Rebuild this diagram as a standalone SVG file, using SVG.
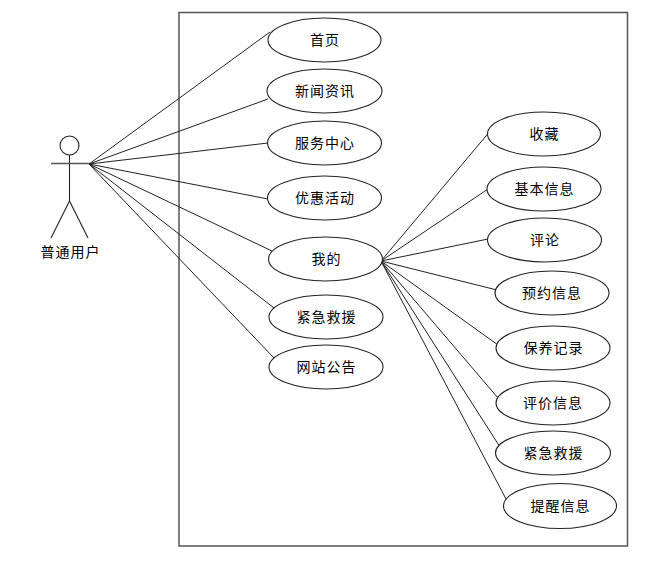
<svg xmlns="http://www.w3.org/2000/svg" width="666" height="566" viewBox="0 0 666 566">
<style>
.n ellipse{fill:#fff;stroke:#222;stroke-width:1.100}
text{font-family:"Noto Sans CJK SC","Liberation Sans",sans-serif;font-size:14px;fill:#000;text-anchor:middle;letter-spacing:1px}
#connectors line{stroke:#222;stroke-width:1}
#actor circle,#actor line{fill:#fff;stroke:#222;stroke-width:1.100}
</style>
<rect width="666" height="566" fill="#fff"/>
<rect x="179" y="12.500" width="448.500" height="533.500" fill="#fff" stroke="#555" stroke-width="1.500"/>
<g id="connectors">
<line x1="89" y1="164" x2="270" y2="32"/>
<line x1="89" y1="164" x2="268" y2="99"/>
<line x1="89" y1="164" x2="268" y2="143"/>
<line x1="89" y1="164" x2="268" y2="199"/>
<line x1="89" y1="164" x2="272" y2="251"/>
<line x1="89" y1="164" x2="274" y2="308"/>
<line x1="89" y1="164" x2="274" y2="358"/>
<line x1="381" y1="261" x2="491" y2="130"/>
<line x1="381" y1="261" x2="488" y2="189"/>
<line x1="381" y1="261" x2="488" y2="239"/>
<line x1="381" y1="261" x2="497" y2="290"/>
<line x1="381" y1="261" x2="498" y2="345"/>
<line x1="381" y1="261" x2="498" y2="398"/>
<line x1="381" y1="261" x2="500" y2="447"/>
<line x1="381" y1="261" x2="506" y2="499"/>
</g>
<g id="actor">
<circle cx="69.500" cy="145.500" r="9.500"/>
<line x1="69.500" y1="155" x2="69.500" y2="201"/>
<line x1="51" y1="163.500" x2="89" y2="163.500" style="stroke-width:1.500;stroke:#555"/>
<line x1="69.500" y1="201" x2="51" y2="238"/>
<line x1="69.500" y1="201" x2="88" y2="238"/>
<text x="70.500" y="257">普通用户</text>
</g>
<g id="n1" class="n"><ellipse cx="324.500" cy="40" rx="56.500" ry="22"/><text x="325" y="45">首页</text></g>
<g id="n2" class="n"><ellipse cx="324.500" cy="91" rx="57.500" ry="22"/><text x="325" y="96">新闻资讯</text></g>
<g id="n3" class="n"><ellipse cx="324.500" cy="143" rx="57" ry="22"/><text x="325" y="148">服务中心</text></g>
<g id="n4" class="n"><ellipse cx="324.500" cy="198" rx="57" ry="22"/><text x="325" y="203">优惠活动</text></g>
<g id="n5" class="n"><ellipse cx="325.500" cy="259" rx="57" ry="22"/><text x="326.500" y="264">我的</text></g>
<g id="n6" class="n"><ellipse cx="326" cy="317" rx="57" ry="22"/><text x="326.500" y="322">紧急救援</text></g>
<g id="n7" class="n"><ellipse cx="326" cy="367" rx="57" ry="22"/><text x="326.500" y="372">网站公告</text></g>
<g id="n8" class="n"><ellipse cx="544" cy="134" rx="56.500" ry="22"/><text x="544.500" y="139">收藏</text></g>
<g id="n9" class="n"><ellipse cx="544" cy="189" rx="57" ry="22"/><text x="544.500" y="194">基本信息</text></g>
<g id="n10" class="n"><ellipse cx="544.500" cy="240" rx="57" ry="22"/><text x="545" y="245">评论</text></g>
<g id="n11" class="n"><ellipse cx="552" cy="293" rx="57" ry="22"/><text x="552" y="298">预约信息</text></g>
<g id="n12" class="n"><ellipse cx="553" cy="348" rx="57" ry="22"/><text x="553.500" y="353">保养记录</text></g>
<g id="n13" class="n"><ellipse cx="553" cy="403" rx="57" ry="22"/><text x="553" y="408">评价信息</text></g>
<g id="n14" class="n"><ellipse cx="553" cy="453" rx="57.500" ry="22"/><text x="553.500" y="458">紧急救援</text></g>
<g id="n15" class="n"><ellipse cx="560" cy="506" rx="56.500" ry="22.500"/><text x="560.500" y="511">提醒信息</text></g>
</svg>
